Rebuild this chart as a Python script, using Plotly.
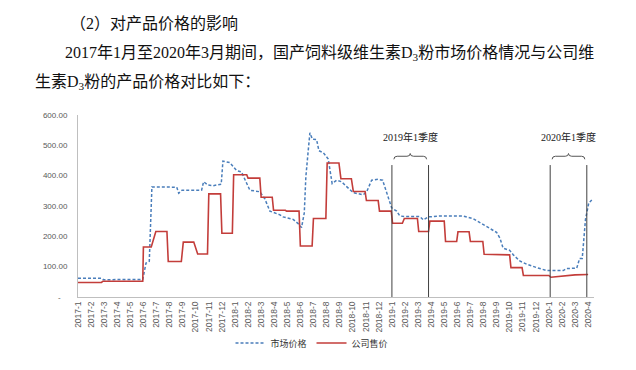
import plotly.graph_objects as go

# ---------------- data ----------------
month_labels = [f"{y}-{m}" for y in (2017, 2018, 2019) for m in range(1, 13)] + ["2020-1", "2020-2", "2020-3", "2020-4"]

# x positions are month indices counted from 2017-1 (fractional = within month)
market_x = [0.0, 1.8, 1.95, 4.95, 5.2, 5.45, 5.65, 7.55, 7.7, 7.95, 9.45, 9.6, 9.95, 10.33, 10.95,
            11.08, 11.6, 12.12, 12.5, 12.88, 13.14, 13.9, 14.28, 14.67, 15.05, 15.44, 15.68, 16.45,
            16.83, 17.09, 17.3, 17.42, 17.6, 17.73, 17.93, 18.24, 18.42, 18.75, 19.13, 19.43, 19.77,
            20.15, 20.54, 21.04, 21.8, 22.07, 22.45, 22.95, 23.29, 23.64, 23.98, 24.36, 24.61, 25.13,
            26.14, 26.4, 26.78, 27.67, 29.46, 30.22, 30.86, 31.63, 32.0, 32.26, 32.5, 33.0, 33.3,
            33.8, 34.31, 35.07, 35.84, 37.1, 37.37, 38.13, 38.35, 38.55, 38.8, 39.05, 39.28]
market_y = [62, 62, 57, 58, 112, 118, 363, 362, 342, 352, 352, 380, 369, 367, 372,
            448, 443, 417, 412, 374, 352, 347, 324, 283, 277, 271, 264, 256,
            242, 229, 277, 396, 482, 541, 520, 519, 482, 476, 455, 374, 385,
            380, 364, 344, 337, 347, 385, 388, 385, 342, 294, 283, 267, 265,
            265, 254, 264, 267, 267, 258, 242, 224, 213, 194, 161, 154, 138,
            118, 108, 97, 87, 87, 94, 95, 127, 127, 256, 310, 320]

company_x = [0, 1.8, 1.9, 4.95, 5.0, 5.6, 5.95, 6.8, 6.9, 7.9, 8.05, 8.85, 9.15, 9.9, 10.0, 10.9,
             11.0, 11.8, 11.9, 12.9, 13.0, 13.9, 14.0, 14.85, 14.95, 15.85, 15.95, 16.9, 17.0,
             17.9, 18.0, 18.95, 19.05, 19.95, 20.1, 20.9, 21.05, 21.95, 22.05, 22.95, 23.05,
             23.95, 24.05, 24.8, 24.95, 25.95, 26.05, 26.8, 26.9, 28.0, 28.1, 28.95, 29.05,
             29.9, 30.0, 30.95, 31.05, 33.0, 33.1, 33.95, 34.05, 36.0, 36.15, 37.1, 38.0, 39.0]
company_y = [48, 48, 52, 52, 165, 165, 216, 216, 117, 117, 181, 181, 142, 142, 340, 340,
             210, 210, 403, 403, 392, 392, 329, 329, 286, 286, 283, 283, 168,
             168, 259, 259, 442, 442, 390, 390, 348, 348, 318, 318, 283,
             283, 243, 243, 259, 259, 216, 216, 250, 250, 183, 183, 215,
             215, 183, 183, 141, 139, 97, 97, 71, 71, 65, 70, 73, 74]

y_ticks = [0, 100, 200, 300, 400, 500, 600]
y_tick_text = ["-\u00a0\u00a0\u00a0", "100.00", "200.00", "300.00", "400.00", "500.00", "600.00"]

quarter_names = ["2019年1季度", "2020年1季度"]
quarter_bounds = [(24.0, 26.8), (36.1, 38.9)]
quarter_line_top = 435
brace_level = 464
label_level = 528

series_names = ["市场价格", "公司售价"]

# ---------------- layout constants ----------------
W, H = 636, 370
L, R, T, B = 78, 42, 115, 69
PW, PH = W - L - R, H - T - B

def px_x(p):
    return (p - L) / PW

def px_y(p):
    return (H - B - p) / PH

fig = go.Figure()
fig.add_trace(go.Scatter(x=market_x, y=market_y, mode="lines", name=series_names[0],
                         line=dict(color="#4a7ebb", width=1.5, dash="3px,2px")))
fig.add_trace(go.Scatter(x=company_x, y=company_y, mode="lines", name=series_names[1],
                         line=dict(color="#c33d3a", width=1.6)))

for (q0, q1), name in zip(quarter_bounds, quarter_names):
    for q in (q0, q1):
        fig.add_shape(type="line", xref="x", yref="y", x0=q, x1=q, y0=0, y1=quarter_line_top,
                      line=dict(color="#404040", width=1))
    a, b = q0 + 0.15, q1 - 0.15
    m = (a + b) / 2
    y = brace_level
    d = 0.25
    path = (f"M {a},{y-10} Q {a},{y} {a+d},{y} L {m-d},{y} Q {m},{y} {m},{y+9} "
            f"Q {m},{y} {m+d},{y} L {b-d},{y} Q {b},{y} {b},{y-10}")
    fig.add_shape(type="path", xref="x", yref="y", path=path,
                  line=dict(color="#555555", width=1))
    fig.add_annotation(x=m, y=label_level, xref="x", yref="y", text=name, showarrow=False,
                       font=dict(family="Liberation Serif, Noto Sans CJK SC", size=10, color="#222"),
                       xanchor="center", yanchor="middle")

body_font = dict(family="Liberation Serif, Noto Sans CJK SC", size=16, color="#111")
texts = [
    ("（2）对产品价格的影响", 68, 21),
    ("2017年1月至2020年3月期间，国产饲料级维生素D<sub>3</sub>粉市场价格情况与公司维", 63, 52),
    ("生素D<sub>3</sub>粉的产品价格对比如下：", 33, 82),
]
for t, x, y in texts:
    fig.add_annotation(x=px_x(x), y=px_y(y), xref="paper", yref="paper", text=t, showarrow=False,
                       font=body_font, xanchor="left", yanchor="middle")

fig.update_layout(
    width=W, height=H, autosize=False,
    margin=dict(l=L, r=R, t=T, b=B, pad=0),
    paper_bgcolor="white", plot_bgcolor="white",
    showlegend=True,
    legend=dict(orientation="h", x=px_x(312), y=px_y(348), xanchor="center", yanchor="middle",
                font=dict(family="Noto Sans CJK SC", size=9, color="#333"),
                itemwidth=30, bgcolor="rgba(0,0,0,0)"),
    xaxis=dict(range=[0, 39.45], tickmode="array", tickvals=list(range(len(month_labels))),
               ticktext=month_labels, tickangle=-90, showgrid=False, zeroline=False,
               showline=True, linecolor="#bfbfbf", linewidth=1, ticks="",
               tickfont=dict(family="Liberation Sans", size=8.5, color="#595959")),
    yaxis=dict(range=[0, 600], tickmode="array", tickvals=y_ticks, ticktext=y_tick_text,
               showgrid=False, zeroline=False, showline=True, linecolor="#bfbfbf", linewidth=1,
               ticks="", ticklabelstandoff=8,
               tickfont=dict(family="Liberation Sans", size=8, color="#595959")),
)

fig.write_html("out.html", config={"displayModeBar": False},
               post_script="document.body.style.margin='0';document.body.style.overflow='hidden';")
